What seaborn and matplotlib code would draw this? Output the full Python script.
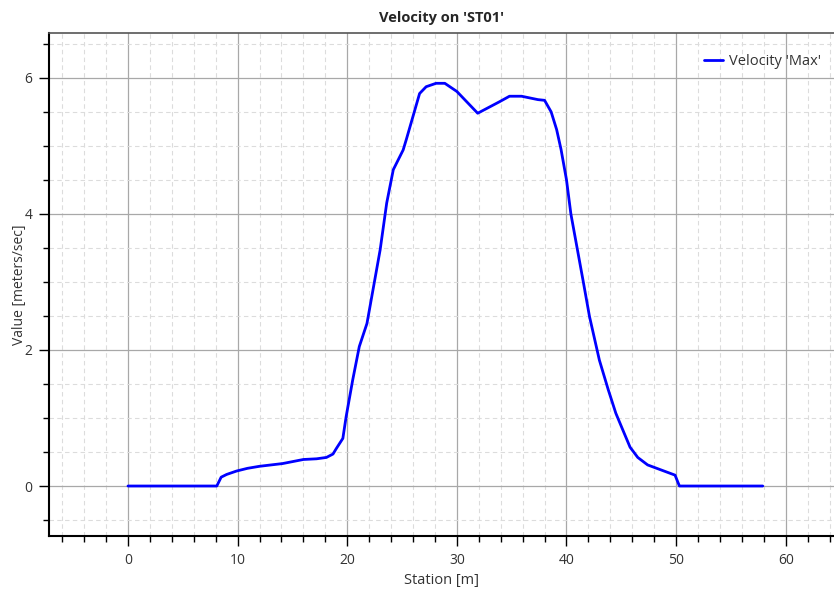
import matplotlib
matplotlib.use("Agg")
import matplotlib.pyplot as plt
from matplotlib.ticker import MultipleLocator
import seaborn as sns
import pandas as pd

# station [m] and max velocity [m/s]
station = [0.0, 2.0, 4.0, 6.0, 8.1, 8.5, 9.0, 9.9, 10.9, 12.0, 14.1, 16.0,
           17.2, 18.1, 18.7, 19.0, 19.6, 19.9, 20.5, 21.1, 21.8, 23.0, 23.6,
           24.2, 25.1, 25.4, 26.6, 27.2, 28.1, 28.9, 30.0, 31.9, 33.9, 34.8,
           35.9, 37.4, 38.0, 38.6, 39.1, 39.5, 40.0, 40.4, 41.5, 42.1, 43.0,
           43.8, 44.5, 45.2, 45.8, 46.5, 47.4, 49.9, 50.3, 54.0, 57.9]
velocity = [0.0, 0.0, 0.0, 0.0, 0.0, 0.13, 0.17, 0.22, 0.26, 0.29, 0.33, 0.39,
            0.40, 0.42, 0.47, 0.55, 0.70, 1.02, 1.56, 2.05, 2.39, 3.47, 4.16,
            4.65, 4.94, 5.10, 5.77, 5.87, 5.92, 5.92, 5.80, 5.48, 5.65, 5.73,
            5.73, 5.68, 5.67, 5.50, 5.24, 4.95, 4.50, 4.00, 3.03, 2.49, 1.85,
            1.42, 1.07, 0.80, 0.57, 0.42, 0.31, 0.16, 0.0, 0.0, 0.0]
series_name = "Velocity 'Max'"

sns.set_style("white")
plt.rcParams['font.family'] = ['Open Sans', 'DejaVu Sans']

df = pd.DataFrame({"station": station, "velocity": velocity,
                   "series": series_name})

fig = plt.figure(figsize=(8.34, 5.93), dpi=100)
ax = fig.add_axes([0.0588, 0.0961, 0.9412, 0.8483])

sns.lineplot(data=df, x="station", y="velocity", hue="series",
             palette=["#0000ff"], linewidth=2, ax=ax)

ax.set_xlim(-7.2, 64.4)
ax.set_ylim(-0.735, 6.66)
ax.xaxis.set_major_locator(MultipleLocator(10))
ax.xaxis.set_minor_locator(MultipleLocator(2))
ax.yaxis.set_major_locator(MultipleLocator(2))
ax.yaxis.set_minor_locator(MultipleLocator(0.5))

ax.grid(which="major", color="#a8a8a8", linewidth=0.9, linestyle="-")
ax.grid(which="minor", color="#dcdcdc", linewidth=0.8, linestyle=(0, (4, 3)))
ax.set_axisbelow(True)

ax.tick_params(which="major", direction="out", length=7, width=1,
               color="black", labelsize=10, labelcolor="#333333",
               bottom=True, left=True, pad=5)
ax.tick_params(which="minor", direction="out", length=4, width=1,
               color="black", bottom=True, left=True)

for side in ["left", "bottom"]:
    ax.spines[side].set_color("black")
    ax.spines[side].set_linewidth(1.5)
ax.spines["top"].set_color("#555555")
ax.spines["top"].set_linewidth(1.2)
ax.spines["right"].set_visible(False)

ax.set_title("Velocity on 'ST01'", fontsize=10.5, fontweight="bold", pad=8)
ax.set_xlabel("Station [m]", fontsize=10.5, color="#333333", labelpad=4)
ax.set_ylabel("Value [meters/sec]", fontsize=10, color="#333333", labelpad=-2)

leg = ax.legend(loc="upper right", frameon=False, fontsize=10.5,
                handlelength=1.3, handletextpad=0.4,
                bbox_to_anchor=(1.0, 0.985))
for t in leg.get_texts():
    t.set_color("#333333")

fig.savefig("out.png", dpi=100)
